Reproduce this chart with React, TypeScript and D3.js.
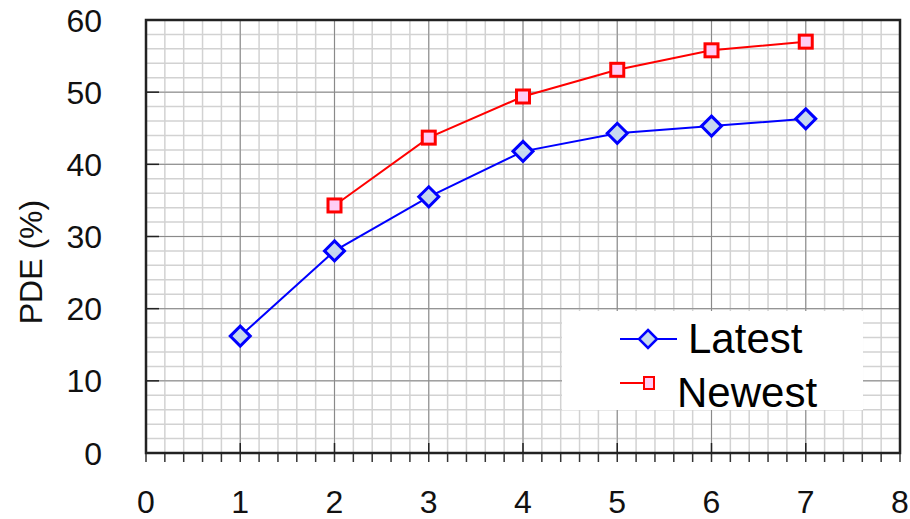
import React from "react";
import * as d3 from "d3";

const latestX = [1, 2, 3, 4, 5, 6, 7];
const latestY = [16.2, 28.0, 35.5, 41.8, 44.3, 45.3, 46.3];
const newestX = [2, 3, 4, 5, 6, 7];
const newestY = [34.3, 43.7, 49.4, 53.1, 55.8, 57.0];
const xTicks = [0, 1, 2, 3, 4, 5, 6, 7, 8];
const yTicks = [0, 10, 20, 30, 40, 50, 60];

const W = 910;
const H = 519;
const left = 146;
const right = 900;
const top = 20;
const bottom = 453;
const font = "Liberation Sans, Arial, sans-serif";

const App = () => {
    const x = d3.scaleLinear().domain([0, 8]).range([left, right]);
    const y = d3.scaleLinear().domain([0, 60]).range([bottom, top]);

    const xMinor = d3.range(0, 8.001, 0.2);
    const yMinor = d3.range(0, 60.001, 2);

    const line = d3
        .line<[number, number]>()
        .x((d) => x(d[0]))
        .y((d) => y(d[1]));

    const latest = latestX.map((v, i) => [v, latestY[i]] as [number, number]);
    const newest = newestX.map((v, i) => [v, newestY[i]] as [number, number]);

    const diamond = (cx: number, cy: number, r: number) =>
        `M${cx},${cy - r}L${cx + r},${cy}L${cx},${cy + r}L${cx - r},${cy}Z`;

    return (
        <svg
            width={W}
            height={H}
            style={{ position: "absolute", left: 0, top: 0, background: "#fff" }}
        >
            {/* minor grid */}
            <g stroke="#d2d2d2" strokeWidth={1.5}>
                {xMinor.map((v, i) => (
                    <line key={"xm" + i} x1={x(v)} x2={x(v)} y1={top} y2={bottom} />
                ))}
                {yMinor.map((v, i) => (
                    <line key={"ym" + i} x1={left} x2={right} y1={y(v)} y2={y(v)} />
                ))}
            </g>
            {/* major grid */}
            <g stroke="#8a8a8a" strokeWidth={1}>
                {xTicks.map((v) => (
                    <line key={"xg" + v} x1={x(v)} x2={x(v)} y1={top} y2={bottom} />
                ))}
                {yTicks.map((v) => (
                    <line key={"yg" + v} x1={left} x2={right} y1={y(v)} y2={y(v)} />
                ))}
            </g>
            {/* inner major ticks */}
            <g stroke="#222" strokeWidth={1.5}>
                {yTicks.map((v) => (
                    <line key={"yt" + v} x1={left} x2={left + 13} y1={y(v)} y2={y(v)} />
                ))}
                {xTicks.map((v) => (
                    <line key={"xt" + v} x1={x(v)} x2={x(v)} y1={bottom} y2={bottom - 10} />
                ))}
            </g>
            {/* bottom outward minor ticks */}
            <g stroke="#333" strokeWidth={1.5}>
                {xMinor.map((v, i) => (
                    <line key={"xo" + i} x1={x(v)} x2={x(v)} y1={bottom} y2={bottom + 9} />
                ))}
            </g>
            {/* frame */}
            <rect
                x={left}
                y={top}
                width={right - left}
                height={bottom - top}
                fill="none"
                stroke="#222"
                strokeWidth={2.5}
            />

            {/* tick labels */}
            <g fontFamily={font} fontSize={32} fill="#111">
                {yTicks.map((v) => (
                    <text key={"yl" + v} x={102} y={y(v)} dy="0.36em" textAnchor="end">
                        {v}
                    </text>
                ))}
                {xTicks.map((v) => (
                    <text key={"xl" + v} x={x(v)} y={513} textAnchor="middle">
                        {v}
                    </text>
                ))}
            </g>
            <text
                transform={`translate(42,262) rotate(-90)`}
                textAnchor="middle"
                fontFamily={font}
                fontSize={32}
                fill="#111"
            >
                PDE (%)
            </text>

            {/* series */}
            <path d={line(newest) || ""} fill="none" stroke="#ff0000" strokeWidth={2} />
            <path d={line(latest) || ""} fill="none" stroke="#0000ff" strokeWidth={2} />
            {newest.map((d, i) => (
                <rect
                    key={"ns" + i}
                    x={x(d[0]) - 6.5}
                    y={y(d[1]) - 6.5}
                    width={13}
                    height={13}
                    fill="#ffcdf5"
                    stroke="#ff0000"
                    strokeWidth={3}
                />
            ))}
            {latest.map((d, i) => (
                <path
                    key={"ld" + i}
                    d={diamond(x(d[0]), y(d[1]), 10)}
                    fill="#c6d8ef"
                    stroke="#0000ff"
                    strokeWidth={3}
                />
            ))}

            {/* legend */}
            <rect x={562} y={311} width={301} height={99} fill="#fff" />
            <line x1={620} x2={677} y1={339} y2={339} stroke="#0000ff" strokeWidth={2} />
            <path d={diamond(648, 339, 9)} fill="#c6d8ef" stroke="#0000ff" strokeWidth={2.5} />
            <line x1={620} x2={650} y1={383} y2={383} stroke="#ff0000" strokeWidth={2} />
            <rect x={644} y={377} width={10} height={12} fill="#ffcdf5" stroke="#ff0000" strokeWidth={2} />
            <g fontFamily={font} fontSize={42} fill="#000">
                <text x={688} y={353}>Latest</text>
                <text x={677} y={407}>Newest</text>
            </g>
        </svg>
    );
};

export default App;
